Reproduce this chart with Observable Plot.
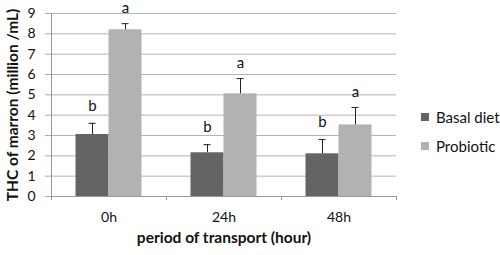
<!DOCTYPE html>
<html>
<head>
<meta charset="utf-8">
<script src="https://cdn.jsdelivr.net/npm/d3@7"></script>
<script src="https://cdn.jsdelivr.net/npm/@observablehq/plot@0.6"></script>
<style>
  html, body { margin: 0; padding: 0; background: #fff; }
  #wrap { position: relative; width: 500px; height: 255px; font-family: Lato, "Open Sans", sans-serif; }
  .leg { position: absolute; left: 421px; display: flex; align-items: center; font-size: 15px; color: #111; line-height: 16px; }
  .leg span.sw { display: inline-block; width: 8px; height: 8px; margin-right: 7px; }
</style>
</head>
<body>
<div id="wrap"></div>
<script>
const times = ["0h", "24h", "48h"];
const basalMean = [3.05, 2.15, 2.1];
const basalSD = [0.55, 0.4, 0.7];
const probioticMean = [8.2, 5.05, 3.52];
const probioticSD = [0.3, 0.75, 0.86];
const basalLetters = ["b", "b", "b"];
const probioticLetters = ["a", "a", "a"];
const yTicks = [0, 1, 2, 3, 4, 5, 6, 7, 8, 9];
const seriesNames = ["Basal diet", "Probiotic"];
const seriesColors = ["#646464", "#b2b2b2"];

const basalRows = times.map((t, i) => ({time: t, value: basalMean[i], top: basalMean[i] + basalSD[i], letter: basalLetters[i]}));
const probRows = times.map((t, i) => ({time: t, value: probioticMean[i], top: probioticMean[i] + probioticSD[i], letter: probioticLetters[i]}));

const W = 500, H = 255, ML = 51, MR = 104, MT = 13, MB = 59;
const bw = (W - ML - MR) / times.length;   // band width
const barW = 33;
const outer = (bw - 2 * barW) / 2;
const off = barW / 2;
const cap = 7;
const font = "Lato, 'Open Sans', sans-serif";

const chart = Plot.plot({
  width: W, height: H,
  marginLeft: ML, marginRight: MR, marginTop: MT, marginBottom: MB,
  style: {fontFamily: font, fontSize: "14px", color: "#111", background: "#fff", overflow: "visible"},
  x: {domain: times, padding: 0, axis: null},
  y: {domain: [0, 9], axis: null},
  marks: [
    Plot.gridY(yTicks, {stroke: "#b4b4b4", strokeOpacity: 1}),
    Plot.axisY(yTicks, {tickSize: 6, tickPadding: 10, stroke: "#aaa", fontSize: 14, label: null}),
    Plot.barY(basalRows, {x: "time", y: "value", fill: seriesColors[0], insetLeft: outer, insetRight: outer + barW}),
    Plot.barY(probRows, {x: "time", y: "value", fill: seriesColors[1], insetLeft: outer + barW, insetRight: outer}),
    Plot.ruleY([0], {stroke: "#999"}),
    Plot.ruleX([times[0]], {x: d => d, dx: -bw / 2, stroke: "#999"}),
    Plot.ruleX(times, {x: d => d, y1: 0, y2: 0, dx: -bw / 2, insetBottom: -4, stroke: "#999"}),
    Plot.ruleX([times[times.length - 1]], {x: d => d, y1: 0, y2: 0, dx: bw / 2, insetBottom: -4, stroke: "#999"}),
    Plot.ruleX(basalRows, {x: "time", y1: "value", y2: "top", dx: -off, stroke: "#222"}),
    Plot.ruleX(probRows, {x: "time", y1: "value", y2: "top", dx: off, stroke: "#222"}),
    Plot.tickY(basalRows, {x: "time", y: "top", dx: -off, insetLeft: (bw - cap) / 2, insetRight: (bw - cap) / 2, stroke: "#222"}),
    Plot.tickY(probRows, {x: "time", y: "top", dx: off, insetLeft: (bw - cap) / 2, insetRight: (bw - cap) / 2, stroke: "#222"}),
    Plot.text(basalRows, {x: "time", y: "top", text: "letter", dx: -off, dy: -17, fontSize: 15, fill: "#111"}),
    Plot.text(probRows, {x: "time", y: "top", text: "letter", dx: off, dy: -15, fontSize: 15, fill: "#111"}),
    Plot.axisX(times, {tickSize: 0, tickPadding: 16, fontSize: 14, label: null}),
    Plot.text(["period of transport (hour)"], {frameAnchor: "bottom", dy: 46, fontWeight: "bold", fontSize: 15.5, fill: "#111"}),
    Plot.text(["THC of marron (million /mL)"], {frameAnchor: "left", dx: -38, rotate: -90, textAnchor: "middle", fontWeight: "bold", fontSize: 15.5, fill: "#111"})
  ]
});

const wrap = document.getElementById("wrap");
wrap.appendChild(chart);
const legTops = [109, 138];
seriesNames.forEach((name, i) => {
  const d = document.createElement("div");
  d.className = "leg";
  d.style.top = legTops[i] + "px";
  d.innerHTML = `<span class="sw" style="background:${seriesColors[i]}"></span><span>${name}</span>`;
  wrap.appendChild(d);
});
</script>
</body>
</html>
